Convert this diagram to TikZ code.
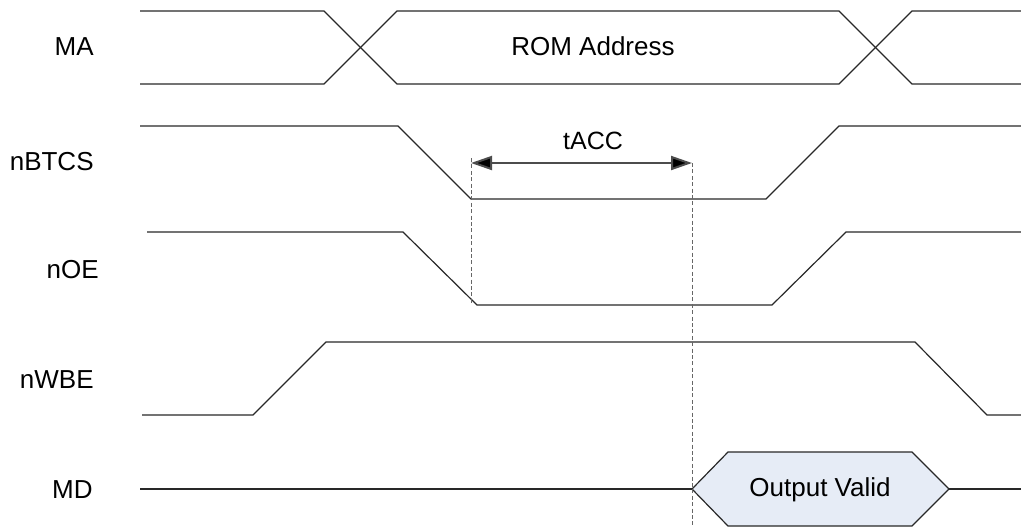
\documentclass[tikz,border=0pt]{standalone}
\usepackage{fontspec}
\setmainfont{Liberation Sans}
\usetikzlibrary{arrows.meta}
\definecolor{wave}{RGB}{40,40,40}
\definecolor{validfill}{RGB}{230,236,246}
\tikzset{
  wavel/.style={draw=wave, line width=0.6pt, line join=miter},
  siglabel/.style={font=\fontsize{13}{15}\selectfont, inner sep=0pt, anchor=east},
  txt/.style={font=\fontsize{13}{15}\selectfont, inner sep=0pt},
  guide/.style={draw=gray!80!black, line width=0.5pt, dash pattern=on 2pt off 1.2pt},
  dim/.style={draw=gray!60!black, line width=1pt, {Triangle[length=10.5pt,width=7pt,fill=black]}-{Triangle[length=10.5pt,width=7pt,fill=black]}}
}
\begin{document}
\begin{tikzpicture}[x=0.5pt,y=-0.5pt]
\useasboundingbox (0,0) rectangle (1021,526);
% labels
\node[siglabel] (lMA) at (94,47) {MA};
\node[siglabel] (lBTCS) at (94,162) {nBTCS};
\node[siglabel] (lOE) at (99,270) {nOE};
\node[siglabel] (lWBE) at (94,380) {nWBE};
\node[siglabel] (lMD) at (93,490) {MD};
% MA bus
\draw[wavel] (140,11) -- (324,11) -- (397,84) -- (839,84) -- (912,11) -- (1021,11);
\draw[wavel] (140,84) -- (324,84) -- (397,11) -- (839,11) -- (912,84) -- (1021,84);
\node[txt] (rom) at (593,46) {ROM Address};
% nBTCS
\draw[wavel] (140,126) -- (398,126) -- (471,199) -- (766,199) -- (839,126) -- (1021,126);
% nOE
\draw[wavel] (147,232) -- (403,232) -- (477,305) -- (772,305) -- (846,232) -- (1021,232);
% nWBE
\draw[wavel] (142,415) -- (253,415) -- (326,342) -- (915,342) -- (987,415) -- (1021,415);
% MD
\coordinate (mdL) at (692,489);
\draw[wavel] (140,489) -- (mdL);
\draw[wavel, fill=validfill] (mdL) -- (728,452) -- (912,452) -- (949,489) -- (912,526) -- (728,526) -- cycle;
\draw[wavel] (949,489) -- (1021,489);
\node[txt] (valid) at (820,490) {Output Valid};
% guides
\coordinate (g1t) at (471,158);
\coordinate (g1b) at (471,305);
\coordinate (g2t) at (692,163);
\coordinate (g2b) at (692,526);
\draw[guide] (g1t) -- (g1b);
\draw[guide] (g2t) -- (g2b);
% tACC dimension
\coordinate (a1) at (471,163);
\coordinate (a2) at (692,163);
\draw[dim] (a1) -- (a2);
\node[txt, font=\fontsize{12.5}{15}\selectfont] (tacc) at (593,141) {tACC};
\end{tikzpicture}
\end{document}
